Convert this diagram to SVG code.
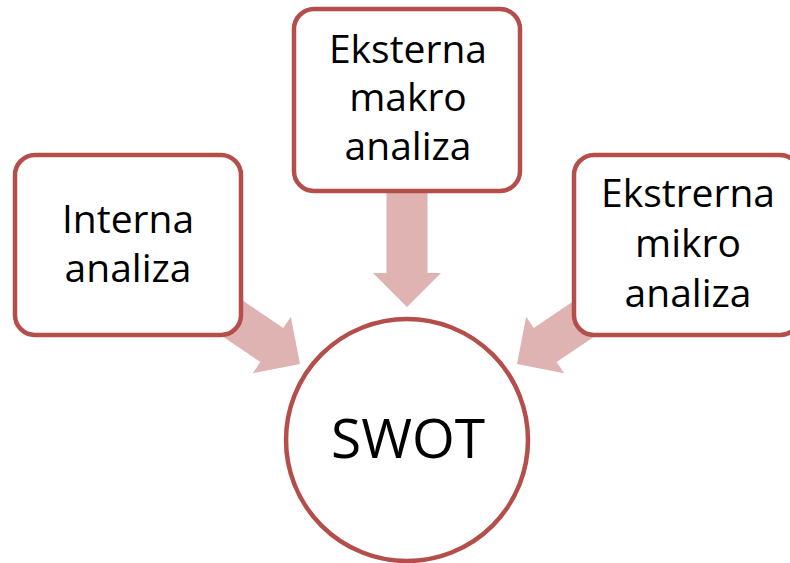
<svg xmlns="http://www.w3.org/2000/svg" width="790" height="563" viewBox="0 0 790 563">
<defs>
<style>
.box{fill:#ffffff;stroke:#b54d4b;stroke-width:4.5}
.arrow{fill:#dfb3b2;stroke:none}
.t{font-family:"Open Sans","Noto Sans","Liberation Sans",sans-serif;font-size:39px;fill:#000;text-anchor:middle}
.big{font-size:55px}
</style>
<polygon id="arr" points="-130,-20.5 -34,-20.5 -34,-34 0,0 -34,34 -34,20.5 -130,20.5"/>
</defs>
<rect width="790" height="563" fill="#ffffff"/>
<g id="connectors">
<use href="#arr" class="arrow" transform="translate(407,307) rotate(90)"/>
<use href="#arr" class="arrow" transform="translate(300,364) rotate(34)"/>
<use href="#arr" class="arrow" transform="translate(517,364) rotate(146)"/>
</g>
<g id="interna">
<rect class="box" x="15" y="155" width="226" height="180" rx="20"/>
<text class="t" x="128" y="233">Interna</text>
<text class="t" x="128" y="282">analiza</text>
</g>
<g id="makro">
<rect class="box" x="294" y="9" width="226" height="182" rx="20"/>
<text class="t" x="408" y="63">Eksterna</text>
<text class="t" x="408" y="111">makro</text>
<text class="t" x="408" y="160">analiza</text>
</g>
<g id="mikro">
<rect class="box" x="574" y="155" width="226" height="180" rx="20"/>
<text class="t" x="688" y="207">Ekstrerna</text>
<text class="t" x="688" y="257">mikro</text>
<text class="t" x="688" y="307">analiza</text>
</g>
<g id="swot">
<circle class="box" cx="407" cy="440" r="121"/>
<text class="t big" x="408" y="458">SWOT</text>
</g>
</svg>
